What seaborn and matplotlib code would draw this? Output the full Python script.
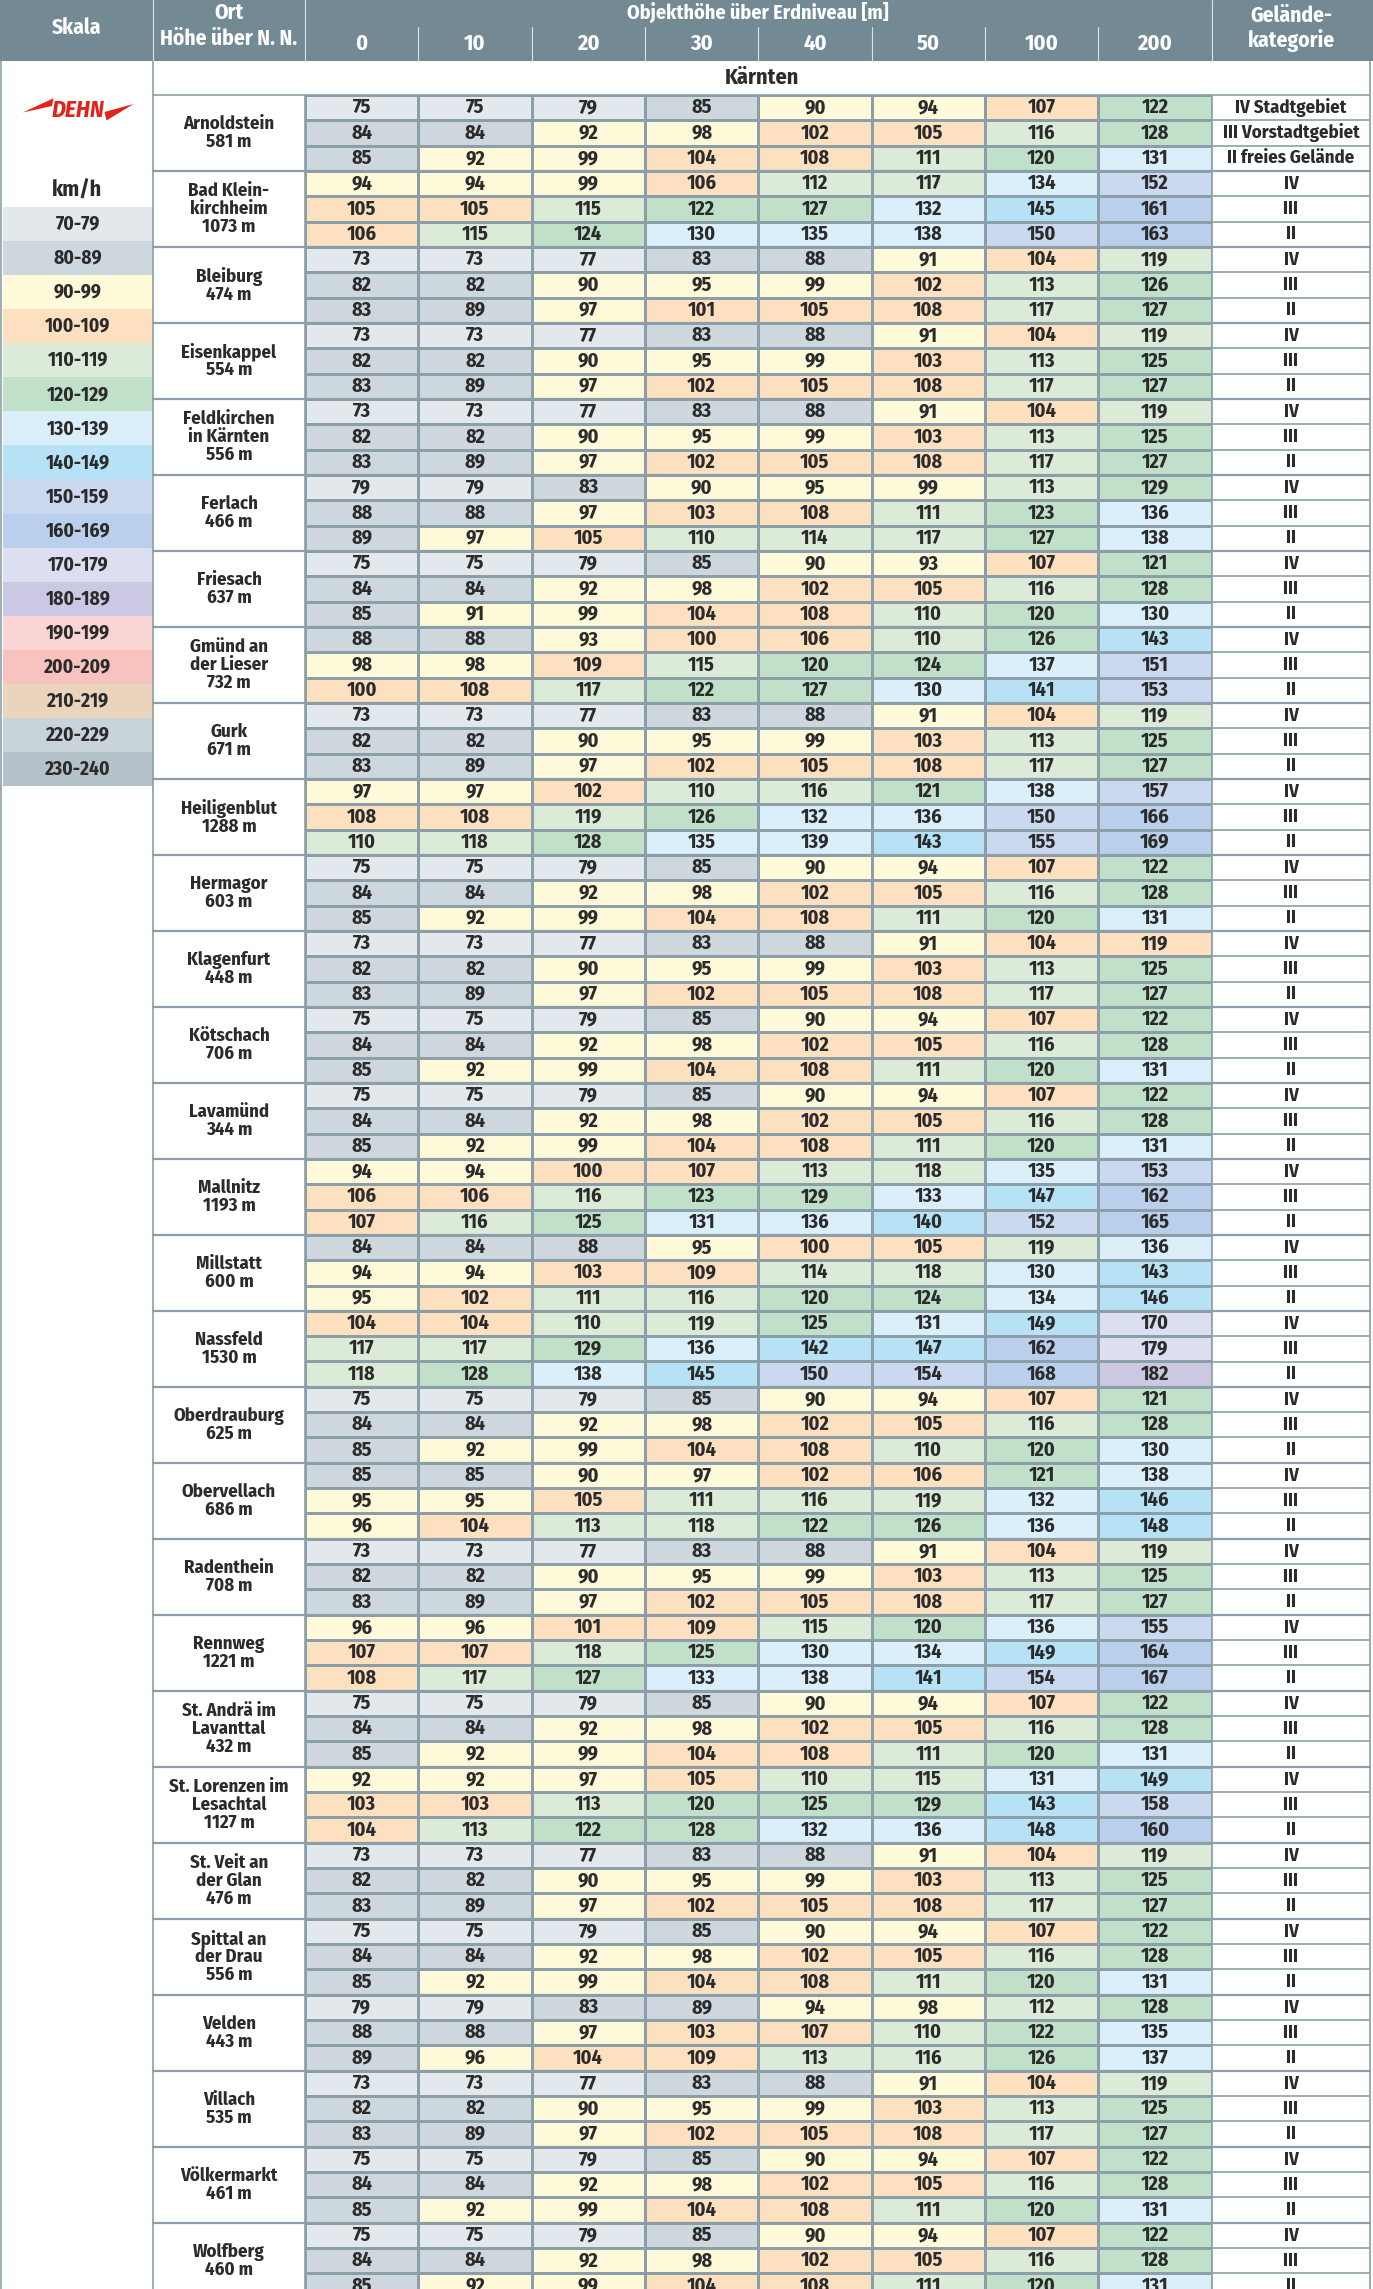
import numpy as np
import matplotlib
matplotlib.use('Agg')
import matplotlib.pyplot as plt
from matplotlib.colors import ListedColormap
from matplotlib.patches import Rectangle, Polygon
from matplotlib import font_manager
import seaborn as sns

# --- data -------------------------------------------------------------
hoehen = [0, 10, 20, 30, 40, 50, 100, 200]

orte = ["Arnoldstein", "Bad Klein-\nkirchheim", "Bleiburg", "Eisenkappel",
        "Feldkirchen\nin Kärnten", "Ferlach", "Friesach", "Gmünd an\nder Lieser",
        "Gurk", "Heiligenblut", "Hermagor", "Klagenfurt", "Kötschach", "Lavamünd",
        "Mallnitz", "Millstatt", "Nassfeld", "Oberdrauburg", "Obervellach",
        "Radenthein", "Rennweg", "St. Andrä im\nLavanttal", "St. Lorenzen im\nLesachtal",
        "St. Veit an\nder Glan", "Spittal an\nder Drau", "Velden", "Villach",
        "Völkermarkt", "Wolfberg"]
ort_hoehe = [581, 1073, 474, 554, 556, 466, 637, 732, 671, 1288, 603, 448, 706, 344,
             1193, 600, 1530, 625, 686, 708, 1221, 432, 1127, 476, 556, 443, 535,
             461, 460]

# Geländekategorie IV (Stadtgebiet)
kat_iv = [
    [75, 75, 79, 85, 90, 94, 107, 122],
    [94, 94, 99, 106, 112, 117, 134, 152],
    [73, 73, 77, 83, 88, 91, 104, 119],
    [73, 73, 77, 83, 88, 91, 104, 119],
    [73, 73, 77, 83, 88, 91, 104, 119],
    [79, 79, 83, 90, 95, 99, 113, 129],
    [75, 75, 79, 85, 90, 93, 107, 121],
    [88, 88, 93, 100, 106, 110, 126, 143],
    [73, 73, 77, 83, 88, 91, 104, 119],
    [97, 97, 102, 110, 116, 121, 138, 157],
    [75, 75, 79, 85, 90, 94, 107, 122],
    [73, 73, 77, 83, 88, 91, 104, 119],
    [75, 75, 79, 85, 90, 94, 107, 122],
    [75, 75, 79, 85, 90, 94, 107, 122],
    [94, 94, 100, 107, 113, 118, 135, 153],
    [84, 84, 88, 95, 100, 105, 119, 136],
    [104, 104, 110, 119, 125, 131, 149, 170],
    [75, 75, 79, 85, 90, 94, 107, 121],
    [85, 85, 90, 97, 102, 106, 121, 138],
    [73, 73, 77, 83, 88, 91, 104, 119],
    [96, 96, 101, 109, 115, 120, 136, 155],
    [75, 75, 79, 85, 90, 94, 107, 122],
    [92, 92, 97, 105, 110, 115, 131, 149],
    [73, 73, 77, 83, 88, 91, 104, 119],
    [75, 75, 79, 85, 90, 94, 107, 122],
    [79, 79, 83, 89, 94, 98, 112, 128],
    [73, 73, 77, 83, 88, 91, 104, 119],
    [75, 75, 79, 85, 90, 94, 107, 122],
    [75, 75, 79, 85, 90, 94, 107, 122],
]
# Geländekategorie III (Vorstadtgebiet)
kat_iii = [
    [84, 84, 92, 98, 102, 105, 116, 128],
    [105, 105, 115, 122, 127, 132, 145, 161],
    [82, 82, 90, 95, 99, 102, 113, 126],
    [82, 82, 90, 95, 99, 103, 113, 125],
    [82, 82, 90, 95, 99, 103, 113, 125],
    [88, 88, 97, 103, 108, 111, 123, 136],
    [84, 84, 92, 98, 102, 105, 116, 128],
    [98, 98, 109, 115, 120, 124, 137, 151],
    [82, 82, 90, 95, 99, 103, 113, 125],
    [108, 108, 119, 126, 132, 136, 150, 166],
    [84, 84, 92, 98, 102, 105, 116, 128],
    [82, 82, 90, 95, 99, 103, 113, 125],
    [84, 84, 92, 98, 102, 105, 116, 128],
    [84, 84, 92, 98, 102, 105, 116, 128],
    [106, 106, 116, 123, 129, 133, 147, 162],
    [94, 94, 103, 109, 114, 118, 130, 143],
    [117, 117, 129, 136, 142, 147, 162, 179],
    [84, 84, 92, 98, 102, 105, 116, 128],
    [95, 95, 105, 111, 116, 119, 132, 146],
    [82, 82, 90, 95, 99, 103, 113, 125],
    [107, 107, 118, 125, 130, 134, 149, 164],
    [84, 84, 92, 98, 102, 105, 116, 128],
    [103, 103, 113, 120, 125, 129, 143, 158],
    [82, 82, 90, 95, 99, 103, 113, 125],
    [84, 84, 92, 98, 102, 105, 116, 128],
    [88, 88, 97, 103, 107, 110, 122, 135],
    [82, 82, 90, 95, 99, 103, 113, 125],
    [84, 84, 92, 98, 102, 105, 116, 128],
    [84, 84, 92, 98, 102, 105, 116, 128],
]
# Geländekategorie II (freies Gelände)
kat_ii = [
    [85, 92, 99, 104, 108, 111, 120, 131],
    [106, 115, 124, 130, 135, 138, 150, 163],
    [83, 89, 97, 101, 105, 108, 117, 127],
    [83, 89, 97, 102, 105, 108, 117, 127],
    [83, 89, 97, 102, 105, 108, 117, 127],
    [89, 97, 105, 110, 114, 117, 127, 138],
    [85, 91, 99, 104, 108, 110, 120, 130],
    [100, 108, 117, 122, 127, 130, 141, 153],
    [83, 89, 97, 102, 105, 108, 117, 127],
    [110, 118, 128, 135, 139, 143, 155, 169],
    [85, 92, 99, 104, 108, 111, 120, 131],
    [83, 89, 97, 102, 105, 108, 117, 127],
    [85, 92, 99, 104, 108, 111, 120, 131],
    [85, 92, 99, 104, 108, 111, 120, 131],
    [107, 116, 125, 131, 136, 140, 152, 165],
    [95, 102, 111, 116, 120, 124, 134, 146],
    [118, 128, 138, 145, 150, 154, 168, 182],
    [85, 92, 99, 104, 108, 110, 120, 130],
    [96, 104, 113, 118, 122, 126, 136, 148],
    [83, 89, 97, 102, 105, 108, 117, 127],
    [108, 117, 127, 133, 138, 141, 154, 167],
    [85, 92, 99, 104, 108, 111, 120, 131],
    [104, 113, 122, 128, 132, 136, 148, 160],
    [83, 89, 97, 102, 105, 108, 117, 127],
    [85, 92, 99, 104, 108, 111, 120, 131],
    [89, 96, 104, 109, 113, 116, 126, 137],
    [83, 89, 97, 102, 105, 108, 117, 127],
    [85, 92, 99, 104, 108, 111, 120, 131],
    [85, 92, 99, 104, 108, 111, 120, 131],
]

kat_lang = ["IV Stadtgebiet", "III Vorstadtgebiet", "II freies Gelände"]
kat_kurz = ["IV", "III", "II"]

skala_labels = ["70-79", "80-89", "90-99", "100-109", "110-119", "120-129", "130-139",
                "140-149", "150-159", "160-169", "170-179", "180-189", "190-199",
                "200-209", "210-219", "220-229", "230-240"]
skala_farben = ["#e3e8ec", "#cfd7de", "#fefad9", "#fde0bf", "#dcebd7", "#c0e0ca",
                "#dbeffa", "#b7e2f6", "#cad9ef", "#b9cfeb", "#dcdff1", "#cbc8e4",
                "#f9d6d5", "#f8c2bf", "#ebd4be", "#c8d3da", "#b5c1c9"]

# the original sheet prints Klagenfurt IV / 200 m in the 100-109 colour
farb_korrektur = {(11 * 3, 7): 3}

# --- prepare ---------------------------------------------------------
werte = np.array([r for g in zip(kat_iv, kat_iii, kat_ii) for r in g], dtype=int)
klassen = np.clip((werte - 70) // 10, 0, 16).astype(float)
for (r, c), k in farb_korrektur.items():
    klassen[r, c] = k
cmap = ListedColormap(skala_farben)

sns.set_theme(style='white')

# pick a condensed sans face, the sheet uses one
bold_fams = {f.name for f in font_manager.fontManager.ttflist if f.weight >= 600}
wunsch = ['Fira Sans Condensed', 'PT Sans Narrow', 'Roboto Condensed',
          'Open Sans Condensed', 'Archivo Narrow', 'IBM Plex Sans Condensed',
          'Encode Sans Condensed', 'Asap Condensed', 'Liberation Sans Narrow', 'Roboto']
schrift = next((f for f in wunsch if f in bold_fams), 'DejaVu Sans')
plt.rcParams['font.family'] = [schrift, 'DejaVu Sans']

W, H = 1373, 2289
HEAD = '#738a95'
LINE = '#8c9fa8'
TXT = '#2b2b2b'
X0, CW = 305.0, 113.33
Y0, ROW = 95.0, 25.33
XR = 1370

fig = plt.figure(figsize=(W / 100, H / 100), dpi=100)
fig.patch.set_facecolor('white')


def px_axes(x0, y0, x1, y1, **kw):
    return fig.add_axes([x0 / W, 1 - y1 / H, (x1 - x0) / W, (y1 - y0) / H], **kw)


bg = px_axes(0, 0, W, H)
bg.set_xlim(0, W)
bg.set_ylim(H, 0)
bg.axis('off')

# header band
bg.add_patch(Rectangle((0, 0), W, 61, color=HEAD, lw=0))
hk = dict(color='white', fontweight='bold', fontsize=15.5, ha='center', va='center')
bg.text(77, 28, "Skala", **hk)
bg.text(229, 13, "Ort", **hk)
bg.text(229, 39, "Höhe über N. N.", **hk)
bg.text(X0 + 4 * CW, 12, "Objekthöhe über Erdniveau [m]",
        **{**hk, 'fontsize': 14.5})
for i, h in enumerate(hoehen):
    bg.text(X0 + (i + 0.5) * CW, 44, str(h), **{**hk, 'fontsize': 16})
bg.text(1291, 16, "Gelände-", **hk)
bg.text(1291, 40, "kategorie", **hk)
for x in (153, X0, X0 + 8 * CW):
    bg.plot([x, x], [0, 61], color='#d9e1e5', lw=0.8)
for i in range(1, 8):
    bg.plot([X0 + i * CW] * 2, [27, 61], color='#d9e1e5', lw=0.8)

bg.text((153 + XR) / 2, 78, "Kärnten", color=TXT, fontweight='bold', fontsize=16,
        ha='center', va='center')

# DEHN logo
bg.add_patch(Polygon([(22.7, 112.5), (53.5, 98.3), (52, 106)], color='#e2231a', lw=0))
bg.add_patch(Polygon([(104.5, 112), (106.5, 120.5), (133.5, 104)], color='#e2231a', lw=0))
bg.text(78, 110, "DEHN", color='#e2231a', fontsize=17, fontweight='bold',
        fontstyle='italic', ha='center', va='center')
bg.text(77, 190, "km/h", color=TXT, fontsize=16, fontweight='bold', ha='center', va='center')

# location names and terrain categories
for g, (name, h) in enumerate(zip(orte, ort_hoehe)):
    bg.text(229, Y0 + (g + 0.5) * 3 * ROW, f"{name}\n{h} m", color=TXT, fontsize=13.5,
            fontweight='bold', ha='center', va='center', linespacing=1.0)
    for r in range(3):
        lab = kat_lang[r] if g == 0 else kat_kurz[r]
        bg.text(1291, Y0 + (3 * g + r + 0.5) * ROW, lab, color=TXT, fontsize=13.5,
                fontweight='bold', ha='center', va='center')

# value cells
n = werte.shape[0]
hm = px_axes(X0, Y0, X0 + 8 * CW, Y0 + n * ROW)
sns.heatmap(klassen, ax=hm, cmap=cmap, vmin=-0.5, vmax=16.5, annot=werte, fmt='d',
            annot_kws=dict(fontsize=14.5, fontweight='bold', color=TXT),
            linewidths=1.0, linecolor=LINE, cbar=False,
            xticklabels=False, yticklabels=False)

# scale legend
lg = px_axes(3, 207, 153, 786)
sns.heatmap(np.arange(17).reshape(-1, 1), ax=lg, cmap=cmap, vmin=-0.5, vmax=16.5,
            annot=np.array(skala_labels).reshape(-1, 1), fmt='',
            annot_kws=dict(fontsize=14, fontweight='bold', color=TXT),
            linewidths=0, cbar=False, xticklabels=False, yticklabels=False)

# table rules on top
top = px_axes(0, 0, W, H, facecolor='none')
top.set_xlim(0, W)
top.set_ylim(H, 0)
top.axis('off')
lk = dict(color=LINE, lw=1.2, solid_capstyle='butt')
top.plot([1, 1], [61, H], **lk)
top.plot([153, 153], [61, H], **lk)
top.plot([X0, X0], [Y0, H], **lk)
top.plot([X0 + 8 * CW] * 2, [Y0, H], **lk)
top.plot([XR, XR], [61, H], **lk)
top.plot([153, XR], [Y0, Y0], **lk)
for k in range(1, n + 1):
    y = Y0 + k * ROW
    if k % 3 == 0:
        top.plot([153, XR], [y, y], color=LINE, lw=1.6)
    else:
        top.plot([X0, XR], [y, y], **lk)

fig.savefig('out.png', dpi=100, facecolor='white')
